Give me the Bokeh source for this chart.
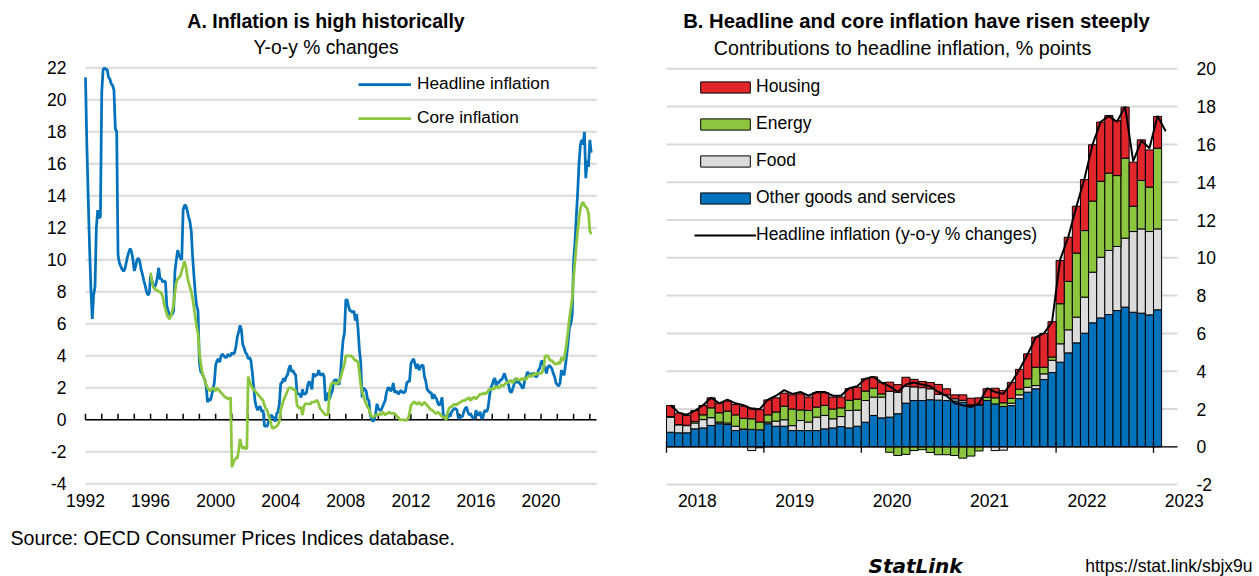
import numpy as np
from bokeh.plotting import figure
from bokeh.models import (FixedTicker, Range1d, Label, Legend, LegendItem)
from bokeh.layouts import row
from bokeh.embed import file_html
from bokeh.resources import INLINE

FONT = "Liberation Sans"

# ---------------- Panel A data: monthly y-o-y % changes ----------------
# Headline inflation, Jan 1992 - Feb 2023
headline_1990s = [
    21.4, 17.2, 13.9, 10.8, 8.2, 6.3, 7.8, 8.3, 12.0, 13.1, 12.6, 12.7,   # 1992
    20.5, 21.9, 22.0, 21.9, 21.9, 21.4, 21.3, 21.0, 20.9, 20.6, 18.2, 18.0,  # 1993
    10.3, 9.8, 9.6, 9.4, 9.3, 9.4, 9.8, 10.2, 10.5, 10.7, 10.5, 10.0,     # 1994
    9.3, 9.6, 10.0, 10.1, 9.9, 9.4, 9.1, 8.7, 8.4, 8.0, 7.8, 7.9,         # 1995
    9.0, 8.7, 8.4, 8.3, 8.5, 8.9, 9.5, 8.8, 8.8, 8.6, 8.7, 8.6,           # 1996
    7.1, 6.8, 6.6, 6.5, 6.6, 6.8, 9.3, 10.0, 10.6, 10.3, 10.1, 10.0,      # 1997
    13.1, 13.4, 13.4, 13.1, 12.7, 12.4, 11.8, 10.2, 9.0, 7.9, 7.1, 6.8,   # 1998
    3.6, 3.0, 2.9, 2.7, 2.5, 2.1, 1.1, 1.3, 1.2, 1.5, 1.9, 2.3,           # 1999
]
headline_2000s = [
    3.4, 3.7, 3.8, 3.6, 4.0, 4.1, 4.0, 3.9, 3.9, 4.1, 4.0, 4.0,           # 2000
    4.2, 4.1, 4.2, 4.6, 5.2, 5.5, 5.9, 5.6, 4.7, 4.5, 4.2, 4.1,           # 2001
    3.8, 3.9, 3.7, 3.0, 2.1, 1.2, 0.8, 0.6, 0.8, 0.8, 0.5, 0.6,           # 2002
    -0.4, -0.4, -0.4, -0.1, 0.0, 0.3, 0.2, 0.1, -0.1, 0.4, 0.5, 1.0,      # 2003
    2.3, 2.3, 2.6, 2.4, 2.7, 2.8, 3.2, 3.4, 3.0, 3.1, 2.9, 2.8,           # 2004
    1.7, 1.6, 1.6, 1.4, 1.9, 1.6, 1.6, 1.7, 2.2, 2.4, 2.2, 1.9,           # 2005
    2.9, 2.7, 2.8, 2.8, 3.1, 2.8, 2.8, 2.9, 2.7, 1.2, 1.3, 1.7,           # 2006
    1.3, 1.6, 1.8, 2.4, 2.5, 2.5, 2.3, 2.2, 2.8, 4.0, 5.0, 5.4,           # 2007
    7.5, 7.5, 7.1, 6.8, 6.8, 6.7, 6.8, 6.2, 6.6, 5.7, 4.4, 3.6,           # 2008
    1.4, 2.0, 1.9, 1.8, 1.3, 1.2, 0.3, 0.1, -0.1, 0.0, 0.4, 1.0,          # 2009
]
headline_2010s = [
    0.7, 0.6, 0.6, 0.8, 1.0, 1.2, 1.7, 2.0, 2.0, 1.8, 1.9, 2.3,           # 2010
    1.7, 1.8, 1.7, 1.6, 1.8, 1.8, 1.7, 1.7, 1.8, 2.3, 2.4, 2.4,           # 2011
    3.5, 3.7, 3.8, 3.5, 3.2, 3.5, 3.1, 3.3, 3.4, 3.4, 2.7, 2.4,           # 2012
    1.9, 1.8, 1.7, 1.7, 1.3, 1.6, 1.4, 1.3, 1.0, 0.9, 1.1, 1.4,           # 2013
    0.2, 0.2, 0.2, 0.1, 0.4, 0.2, 0.5, 0.6, 0.7, 0.7, 0.6, 0.1,           # 2014
    0.1, 0.2, 0.2, 0.5, 0.7, 0.8, 0.5, 0.3, 0.4, 0.2, 0.1, 0.1,           # 2015
    0.6, 0.3, 0.3, 0.5, 0.1, 0.1, 0.5, 0.6, 0.5, 0.8, 1.5, 2.0,           # 2016
    2.2, 2.5, 2.6, 2.0, 2.4, 2.3, 2.5, 2.5, 2.7, 2.9, 2.6, 2.4,           # 2017
    2.2, 1.8, 1.7, 1.9, 2.2, 2.6, 2.3, 2.5, 2.3, 2.2, 2.0, 2.0,           # 2018
    2.5, 2.7, 3.0, 2.8, 2.9, 2.7, 2.9, 2.9, 2.7, 2.7, 3.1, 3.2,           # 2019
]
headline_2020s = [
    3.6, 3.7, 3.4, 3.2, 2.9, 3.3, 3.4, 3.3, 3.2, 2.9, 2.7, 2.3,           # 2020
    2.2, 2.1, 2.3, 3.1, 2.9, 2.8, 3.4, 4.1, 4.9, 5.8, 6.0, 6.6,           # 2021
    9.9, 11.1, 12.7, 14.2, 16.0, 17.2, 17.5, 17.2, 18.0, 15.1, 16.2, 15.8,  # 2022
    17.5, 16.7,                                                          # 2023
]

# Core inflation, Jan 1996 - Feb 2023
core_1990s = [
    9.2, 8.6, 8.3, 8.2, 8.1, 8.1, 8.0, 8.0, 7.9, 7.7, 7.2, 6.9,           # 1996
    6.6, 6.4, 6.3, 6.5, 6.8, 7.2, 8.0, 8.6, 8.8, 8.9, 9.0, 9.3,           # 1997
    9.6, 9.9, 9.6, 9.0, 8.6, 8.3, 8.0, 7.6, 7.0, 6.4, 5.8, 5.4,           # 1998
    4.2, 3.5, 3.0, 2.7, 2.5, 2.2, 2.0, 1.9, 1.8, 1.9, 2.0, 1.9,           # 1999
]
core_2000s = [
    1.8, 2.0, 1.9, 1.8, 1.7, 1.6, 1.5, 1.4, 1.4, 1.3, 1.3, 1.4,           # 2000
    -2.96, -2.7, -2.5, -2.4, -2.4, -1.9, -1.2, -1.6, -1.8, -1.7, -1.8, -1.8,  # 2001
    2.7, 2.4, 2.2, 2.0, 1.9, 1.8, 1.7, 1.6, 1.5, 1.4, 1.3, 1.2,           # 2002
    0.9, 0.7, 0.6, 0.3, 0.0, -0.3, -0.55, -0.5, -0.45, -0.4, -0.3, -0.1,  # 2003
    0.6, 0.9, 1.2, 1.4, 1.6, 1.8, 2.0, 2.0, 2.0, 1.9, 1.9, 1.8,           # 2004
    0.9, 0.8, 0.7, 0.8, 0.3, 0.8, 1.0, 1.0, 1.0, 1.0, 1.0, 1.1,           # 2005
    1.1, 1.1, 1.2, 1.2, 1.0, 0.7, 0.6, 0.5, 0.4, 0.3, 0.3, 0.4,           # 2006
    1.8, 2.2, 2.3, 2.3, 2.3, 2.2, 2.3, 2.4, 2.6, 2.9, 3.2, 3.5,           # 2007
    4.0, 4.0, 4.0, 4.0, 4.0, 3.9, 3.8, 3.7, 3.7, 3.6, 3.0, 2.2,           # 2008
    1.8, 1.5, 1.2, 1.0, 0.8, 0.7, 0.4, 0.2, 0.16, 0.2, 0.3, 0.3,          # 2009
]
core_2010s = [
    0.3, 0.4, 0.3, 0.5, 0.4, 0.3, 0.4, 0.4, 0.5, 0.4, 0.4, 0.4,           # 2010
    0.4, 0.3, 0.2, 0.1, 0.0, 0.0, 0.0, 0.0, -0.05, 0.0, 0.1, 0.4,         # 2011
    0.9, 1.0, 1.1, 1.1, 1.0, 1.0, 1.1, 1.0, 0.9, 1.0, 1.1, 1.0,           # 2012
    0.9, 0.8, 0.7, 0.6, 0.6, 0.5, 0.4, 0.4, 0.5, 0.4, 0.3, 0.2,           # 2013
    0.2, 0.1, 0.0, 0.4, 0.7, 0.8, 0.8, 0.9, 1.0, 0.9, 1.0, 1.0,           # 2014
    1.1, 1.1, 1.2, 1.2, 1.2, 1.3, 1.3, 1.4, 1.2, 1.3, 1.4, 1.4,           # 2015
    1.3, 1.4, 1.5, 1.6, 1.6, 1.6, 1.7, 1.6, 1.7, 1.8, 1.9, 1.9,           # 2016
    2.0, 1.9, 2.0, 2.1, 2.0, 2.0, 2.1, 2.2, 2.1, 2.2, 2.3, 2.3,           # 2017
    2.4, 2.4, 2.5, 2.3, 2.4, 2.5, 2.6, 2.5, 2.5, 2.5, 2.6, 2.5,           # 2018
    2.6, 2.5, 2.7, 2.7, 2.8, 2.7, 2.8, 2.9, 2.8, 2.9, 2.9, 2.9,           # 2019
]
core_2020s = [
    2.9, 3.0, 3.3, 4.0, 4.0, 4.0, 3.8, 3.7, 3.7, 3.6, 3.5, 3.5,           # 2020
    3.5, 3.6, 3.5, 3.9, 3.7, 3.8, 4.3, 4.9, 5.6, 6.4, 7.0, 7.6,           # 2021
    8.9, 9.9, 10.9, 11.8, 12.6, 13.2, 13.5, 13.6, 13.4, 13.3, 13.2, 12.9,  # 2022
    11.8, 11.6,                                                          # 2023
]
year_labels_a = [1992, 1996, 2000, 2004, 2008, 2012, 2016, 2020]
year_ticks_a = list(range(1992, 2024))
y_ticks_a = list(range(-4, 23, 2))

# ---------------- Panel B data: contributions, % points, Jan 2018 - Jan 2023 ----------------
other = [
    0.77, 0.74, 0.74, 0.95, 1.00, 1.13, 1.22, 1.18, 0.86, 0.92, 0.92, 0.90,
    1.22, 1.09, 1.09, 0.86, 0.86, 0.86, 0.86, 0.95, 1.00, 1.07, 1.00, 1.09,
    1.30, 1.66, 1.53, 1.57, 1.75, 2.31, 2.45, 2.45, 2.49, 2.47, 2.45, 2.42,
    2.36, 2.22, 2.20, 2.45, 2.27, 2.13, 2.18, 2.55, 2.89, 3.07, 3.56, 3.93,
    4.48, 4.97, 5.50, 6.01, 6.56, 6.82, 7.00, 7.21, 7.39, 7.12, 7.07, 6.98,
    7.25,
]
food = [
    0.80, 0.42, 0.38, 0.31, 0.44, 0.41, 0.09, 0.08, 0.23, 0.02, -0.20, -0.05,
    0.09, 0.27, 0.34, 0.26, 0.53, 0.45, 0.71, 0.71, 0.48, 0.53, 0.92, 0.85,
    1.15, 0.97, 1.10, 1.37, 1.14, 0.88, 0.72, 0.68, 0.58, 0.30, 0.30, 0.12,
    0.10, 0.00, 0.05, 0.00, -0.20, -0.18, 0.13, 0.20, 0.26, 0.17, 0.30, 0.65,
    0.97, 1.22, 1.36, 1.91, 2.68, 3.21, 3.39, 3.39, 3.65, 4.27, 4.46, 4.41,
    4.28,
]
energy = [
    0.03, 0.02, 0.02, 0.08, 0.25, 0.52, 0.49, 0.63, 0.60, 0.57, 0.56, 0.41,
    0.38, 0.48, 0.72, 0.88, 0.56, 0.61, 0.53, 0.53, 0.52, 0.46, 0.54, 0.58,
    0.50, 0.47, 0.17, -0.29, -0.46, -0.40, -0.20, -0.15, -0.30, -0.42, -0.42, -0.46,
    -0.60, -0.49, -0.22, 0.17, 0.32, 0.20, 0.25, 0.30, 0.45, 0.97, 0.35, 0.17,
    2.12, 2.56, 3.39, 3.52, 3.76, 4.02, 4.09, 3.75, 4.23, 1.34, 2.56, 2.35,
    4.27,
]
housing = [
    0.58, 0.60, 0.52, 0.58, 0.50, 0.53, 0.51, 0.53, 0.55, 0.64, 0.57, 0.65,
    0.79, 0.75, 0.69, 0.75, 0.85, 0.71, 0.76, 0.67, 0.63, 0.57, 0.62, 0.63,
    0.65, 0.60, 0.60, 0.48, 0.40, 0.49, 0.40, 0.33, 0.33, 0.53, 0.32, 0.21,
    0.29, 0.35, 0.34, 0.45, 0.51, 0.65, 0.85, 1.05, 1.32, 1.59, 1.79, 1.87,
    2.29, 2.34, 2.48, 2.70, 2.98, 3.13, 3.05, 2.91, 2.70, 2.33, 2.15, 1.97,
    1.68,
]
year_labels_b = [2018, 2019, 2020, 2021, 2022, 2023]
y_ticks_b = list(range(-2, 21, 2))

BLUE = "#0072BC"
GREEN = "#8CC63F"
RED = "#E0252B"
GREY = "#DCDCDC"
GRIDC = "#D9D9D9"

H = 576
WA, WB = 640, 619

# ================= Panel A =================
headline = headline_1990s + headline_2000s + headline_2010s + headline_2020s
core = core_1990s + core_2000s + core_2010s + core_2020s
xa = 1992 + np.arange(len(headline)) / 12.0
xc = 1996 + np.arange(len(core)) / 12.0

A_X0, A_X1 = 1992.0, 2023.41          # plotting area in data units
pA = figure(width=WA, height=H, title=None,
            x_range=Range1d(1986.776, 2026.112), y_range=Range1d(-9.794, 26.206),
            x_axis_location=None, y_axis_location=None,
            output_backend="svg", toolbar_location=None, min_border=0)
pA.outline_line_color = None
pA.xgrid.visible = False
pA.ygrid.visible = False

# horizontal grid lines limited to the plotting area
nA = len(y_ticks_a)
pA.segment(x0=[A_X0] * nA, y0=y_ticks_a, x1=[A_X1] * nA, y1=y_ticks_a,
           line_color=GRIDC, line_width=2)

# zero axis with yearly ticks
pA.segment(x0=[A_X0], y0=[0], x1=[A_X1], y1=[0], line_color="black", line_width=1.5)
pA.segment(x0=year_ticks_a, y0=[0] * len(year_ticks_a), x1=year_ticks_a,
           y1=[0.375] * len(year_ticks_a), line_color="black", line_width=1.5)

# tick labels
pA.text(x=[A_X0] * nA, y=y_ticks_a, text=[str(t) for t in y_ticks_a],
        x_offset=-19, text_align="right", text_baseline="middle",
        text_font={"value": FONT}, text_font_size="17.5px", text_color="black")
pA.text(x=year_labels_a, y=[-4] * len(year_labels_a), text=[str(t) for t in year_labels_a],
        y_offset=17, text_align="center", text_baseline="middle",
        text_font={"value": FONT}, text_font_size="17.5px", text_color="black")

rA1 = pA.line(xa, headline, line_color=BLUE, line_width=2.75)
rA2 = pA.line(xc, core, line_color=GREEN, line_width=2.75)

legA = Legend(items=[LegendItem(label="Headline inflation", renderers=[rA1]),
                     LegendItem(label="Core inflation", renderers=[rA2])],
              location=(358, 448), padding=0, margin=0, spacing=13,
              glyph_width=53, glyph_height=20, label_height=20, label_standoff=6,
              label_text_font=FONT, label_text_font_size="17.3px", label_text_color="black",
              background_fill_alpha=0, border_line_color=None)
pA.add_layout(legA)

pA.add_layout(Label(x=325.5, y=H - 20, x_units="screen", y_units="screen",
                    text="A. Inflation is high historically",
                    text_align="center", text_baseline="middle", text_font=FONT,
                    text_font_size="19.5px", text_font_style="bold", text_color="black"))
pA.add_layout(Label(x=325.5, y=H - 47, x_units="screen", y_units="screen",
                    text="Y-o-y % changes",
                    text_align="center", text_baseline="middle", text_font=FONT,
                    text_font_size="19.3px", text_color="black"))
pA.add_layout(Label(x=10, y=H - 537, x_units="screen", y_units="screen",
                    text="Source: OECD Consumer Prices Indices database.",
                    text_align="left", text_baseline="middle", text_font=FONT,
                    text_font_size="19.6px", text_color="black"))

# ================= Panel B =================
B_X0, B_X1 = 0.0, 62.95
pB = figure(width=WB, height=H, title=None,
            x_range=Range1d(-3.203, 73.06), y_range=Range1d(-6.862, 23.614),
            x_axis_location=None, y_axis_location=None,
            output_backend="svg", toolbar_location=None, min_border=0)
pB.outline_line_color = None
pB.xgrid.visible = False
pB.ygrid.visible = False

nB = len(y_ticks_b)
pB.segment(x0=[B_X0] * nB, y0=y_ticks_b, x1=[B_X1] * nB, y1=y_ticks_b,
           line_color=GRIDC, line_width=2)

n_bars = len(other)
xb = np.arange(n_bars) + 0.5
components = [("Other goods and services", other, BLUE),
              ("Food", food, GREY),
              ("Energy", energy, GREEN),
              ("Housing", housing, RED)]
pos_base = np.zeros(n_bars)
neg_base = np.zeros(n_bars)
bar_r = {}
for name, vals, col in components:
    v = np.array(vals, dtype=float)
    bottom = np.where(v >= 0, pos_base, neg_base)
    top = bottom + v
    pos_base = np.where(v >= 0, top, pos_base)
    neg_base = np.where(v < 0, top, neg_base)
    bar_r[name] = pB.vbar(x=xb, bottom=bottom, top=top, width=1.0, fill_color=col,
                          line_color="black", line_width=1)

# zero axis with year ticks
year_ticks_b = [(y - 2018) * 12 for y in year_labels_b]
pB.segment(x0=[B_X0], y0=[0], x1=[B_X1], y1=[0], line_color="black", line_width=1.3)
pB.segment(x0=year_ticks_b, y0=[-0.32] * len(year_ticks_b), x1=year_ticks_b,
           y1=[0.27] * len(year_ticks_b), line_color="black", line_width=1.3)

start_b = (2018 - 1992) * 12
headline_b = headline[start_b:]
xl = np.arange(len(headline_b)) + 0.5
rB_line = pB.line(xl, headline_b, line_color="black", line_width=2)

pB.text(x=[B_X1] * nB, y=y_ticks_b, text=[str(t) for t in y_ticks_b],
        x_offset=19, text_align="left", text_baseline="middle",
        text_font={"value": FONT}, text_font_size="17.5px", text_color="black")
pB.text(x=[t + 3.8 for t in year_ticks_b], y=[-2] * len(year_ticks_b),
        text=[str(t) for t in year_labels_b], y_offset=16, text_align="center",
        text_baseline="middle", text_font={"value": FONT}, text_font_size="17.5px",
        text_color="black")

legB = Legend(items=[LegendItem(label="Housing", renderers=[bar_r["Housing"]]),
                     LegendItem(label="Energy", renderers=[bar_r["Energy"]]),
                     LegendItem(label="Food", renderers=[bar_r["Food"]]),
                     LegendItem(label="Other goods and services", renderers=[bar_r["Other goods and services"]]),
                     LegendItem(label="Headline inflation (y-o-y % changes)", renderers=[rB_line])],
              location=(54, 331), padding=0, margin=0, spacing=16,
              glyph_width=62, glyph_height=14, label_height=20, label_standoff=0,
              label_text_font=FONT, label_text_font_size="17.5px", label_text_color="black",
              background_fill_alpha=0, border_line_color=None)
pB.add_layout(legB)

pB.add_layout(Label(x=276, y=H - 20, x_units="screen", y_units="screen",
                    text="B. Headline and core inflation have risen steeply",
                    text_align="center", text_baseline="middle", text_font=FONT,
                    text_font_size="20.3px", text_font_style="bold", text_color="black"))
pB.add_layout(Label(x=262, y=H - 47, x_units="screen", y_units="screen",
                    text="Contributions to headline inflation, % points",
                    text_align="center", text_baseline="middle", text_font=FONT,
                    text_font_size="19.7px", text_color="black"))
pB.add_layout(Label(x=228, y=H - 565, x_units="screen", y_units="screen", text="StatLink",
                    text_align="left", text_baseline="middle", text_font="DejaVu Sans",
                    text_font_size="20px", text_font_style="bold italic", text_color="black"))
pB.add_layout(Label(x=612, y=H - 565, x_units="screen", y_units="screen",
                    text="https://stat.link/sbjx9u", text_align="right",
                    text_baseline="middle", text_font=FONT, text_font_size="17.5px",
                    text_color="black"))

layout = row(pA, pB)
open("out.html", "w").write(file_html(layout, INLINE))
